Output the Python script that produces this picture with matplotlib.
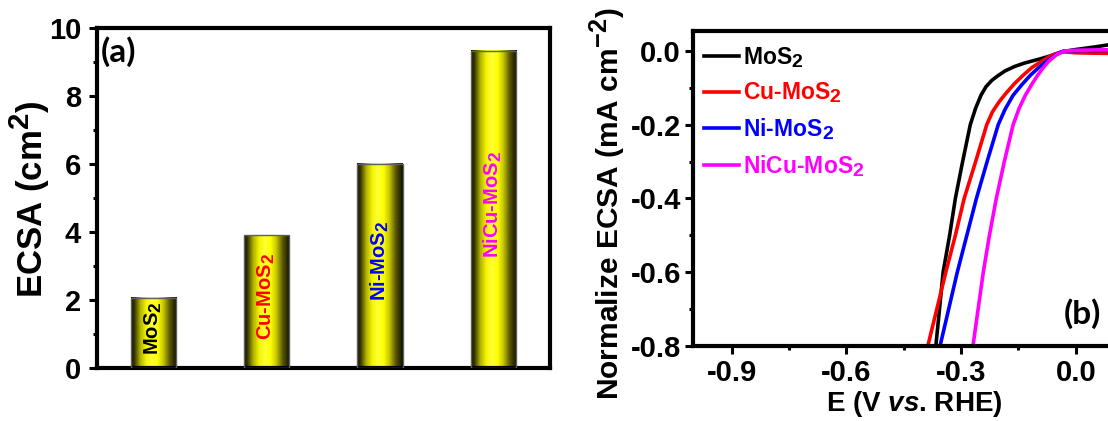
import numpy as np
import matplotlib
matplotlib.use("Agg")
import matplotlib.pyplot as plt
import matplotlib._mathtext as mt
from matplotlib.colors import LinearSegmentedColormap
from matplotlib.ticker import MultipleLocator, FormatStrFormatter

plt.rcParams['font.family'] = ['Liberation Sans', 'DejaVu Sans']
plt.rcParams['font.weight'] = 'bold'
plt.rcParams['mathtext.fontset'] = 'custom'
plt.rcParams['mathtext.rm'] = 'Liberation Sans:bold'
plt.rcParams['mathtext.bf'] = 'Liberation Sans:bold'
plt.rcParams['mathtext.it'] = 'Liberation Sans:bold:italic'
plt.rcParams['axes.unicode_minus'] = False
# sub/superscripts in the original are nearly full size
mt.SHRINK_FACTOR = 0.85

# panel (a) data
samples = ['MoS$_2$', 'Cu-MoS$_2$', 'Ni-MoS$_2$', 'NiCu-MoS$_2$']
ecsa = [2.07, 3.91, 6.01, 9.33]
colors = ['black', '#ff0000', '#0000ff', '#ff00ff']

# panel (b) data, LSV curves
v_mos2 = [-0.366, -0.347, -0.33, -0.315, -0.296, -0.276, -0.262, -0.248, -0.235, -0.22,
          -0.205, -0.185, -0.16, -0.135, -0.11, -0.085, -0.06, -0.035, 0.0, 0.05, 0.1, 0.15]
j_mos2 = [-0.8, -0.6, -0.5, -0.4, -0.3, -0.2, -0.155, -0.12, -0.097, -0.08,
          -0.068, -0.054, -0.042, -0.033, -0.026, -0.019, -0.011, -0.002, 0.004, 0.011, 0.019, 0.026]
v_cu = [-0.387, -0.34, -0.315, -0.292, -0.262, -0.233, -0.218, -0.2, -0.183, -0.16,
        -0.137, -0.115, -0.091, -0.064, -0.045, -0.035, 0.0, 0.05, 0.15]
j_cu = [-0.8, -0.6, -0.5, -0.4, -0.3, -0.2, -0.165, -0.137, -0.115, -0.088,
        -0.065, -0.045, -0.029, -0.012, -0.005, -0.002, -0.005, -0.006, -0.007]
v_ni = [-0.355, -0.31, -0.285, -0.26, -0.232, -0.203, -0.185, -0.164, -0.14, -0.119,
        -0.097, -0.078, -0.055, -0.04, -0.032, 0.0, 0.15]
j_ni = [-0.8, -0.6, -0.5, -0.4, -0.3, -0.2, -0.158, -0.12, -0.09, -0.066,
        -0.045, -0.029, -0.012, -0.004, 0.0, 0.001, 0.002]
v_nicu = [-0.269, -0.242, -0.226, -0.208, -0.187, -0.164, -0.148, -0.132, -0.115, -0.1,
          -0.085, -0.073, -0.06, -0.05, -0.03, 0.0, 0.15]
j_nicu = [-0.8, -0.6, -0.5, -0.4, -0.3, -0.2, -0.155, -0.12, -0.09, -0.066,
          -0.045, -0.03, -0.018, -0.01, 0.0, 0.002, 0.004]

fig = plt.figure(figsize=(11.08, 4.21), dpi=100)

# ---- panel (a)
ax1 = fig.add_axes([0.0871, 0.1259, 0.4093, 0.8076])
xpos = np.arange(1, len(ecsa) + 1)
bars = ax1.bar(xpos, ecsa, width=0.4, facecolor='none', edgecolor='#606060',
               linewidth=1, zorder=3)

gold = LinearSegmentedColormap.from_list('gold', [
    (0.0, '#0e0e00'), (0.08, '#3a3a00'), (0.2, '#b0b000'), (0.33, '#f4f400'),
    (0.45, '#ffff38'), (0.58, '#ffff00'), (0.7, '#c8c800'), (0.84, '#5c5c00'),
    (1.0, '#0c0c00')])
grad = np.linspace(0, 1, 256).reshape(1, -1)
for b in bars:
    x0 = b.get_x()
    ax1.imshow(grad, cmap=gold, extent=[x0, x0 + b.get_width(), 0, b.get_height()],
               aspect='auto', zorder=2)

for x, v, name, c in zip(xpos, ecsa, samples, colors):
    ax1.text(x, v / 2 + 0.15, name, rotation=90, ha='center', va='center',
             color=c, fontsize=14.5, fontweight='bold', zorder=4)

ax1.set_xlim(0.5, 4.5)
ax1.set_ylim(0, 10)
ax1.set_xticks([])
ax1.yaxis.set_major_locator(MultipleLocator(2))
ax1.yaxis.set_minor_locator(MultipleLocator(1))
ax1.tick_params(axis='y', which='major', direction='out', length=6, width=2.2,
                labelsize=21, pad=5)
ax1.tick_params(axis='y', which='minor', direction='out', length=3, width=2.2)
ax1.set_ylabel('ECSA (cm$^2$)', fontsize=25, fontweight='bold')
ax1.yaxis.set_label_coords(-0.098, 0.497)
for s in ax1.spines.values():
    s.set_linewidth(3)
ax1.text(0.01, 0.975, '(a)', transform=ax1.transAxes, ha='left', va='top',
         fontsize=24, fontweight='bold', family=['Lato', 'DejaVu Sans'])

# ---- panel (b)
ax2 = fig.add_axes([0.6257, 0.1781, 0.3971, 0.749])
ax2.plot(v_mos2, j_mos2, color=colors[0], lw=2.6, label='MoS$_2$')
ax2.plot(v_cu, j_cu, color=colors[1], lw=2.6, label='Cu-MoS$_2$')
ax2.plot(v_ni, j_ni, color=colors[2], lw=2.6, label='Ni-MoS$_2$')
ax2.plot(v_nicu, j_nicu, color=colors[3], lw=2.6, label='NiCu-MoS$_2$')

ax2.set_xlim(-1.0, 0.15)
ax2.set_ylim(-0.8, 0.055)
ax2.xaxis.set_major_locator(MultipleLocator(0.3))
ax2.xaxis.set_minor_locator(MultipleLocator(0.15))
ax2.yaxis.set_major_locator(MultipleLocator(0.2))
ax2.yaxis.set_minor_locator(MultipleLocator(0.1))
ax2.xaxis.set_major_formatter(FormatStrFormatter('%.1f'))
ax2.yaxis.set_major_formatter(FormatStrFormatter('%.1f'))
ax2.tick_params(which='major', direction='out', length=6, width=2.2,
                labelsize=21, pad=3)
ax2.tick_params(which='minor', direction='out', length=3, width=2.2)
for s in ax2.spines.values():
    s.set_linewidth(3)

ax2.set_ylabel('Normalize ECSA (mA cm$^{-2}$)', fontsize=21.5, fontweight='bold')
ax2.yaxis.set_label_coords(-0.148, 0.452)
ax2.set_xlabel('E (V $\\mathit{vs}$. RHE)', fontsize=20, fontweight='bold')
ax2.xaxis.set_label_coords(0.5016, -0.135)

leg = ax2.legend(loc='upper left', bbox_to_anchor=(0.024, 0.955), frameon=False,
                 fontsize=16.5, handlelength=1.53, handletextpad=0.16,
                 labelspacing=0.47, borderpad=0, borderaxespad=0,
                 labelcolor='linecolor')

ax2.text(-0.032, -0.711, '(b)', ha='left', va='center', fontsize=24,
         fontweight='bold', family=['Lato', 'DejaVu Sans'])

fig.savefig('out.png', dpi=100)
